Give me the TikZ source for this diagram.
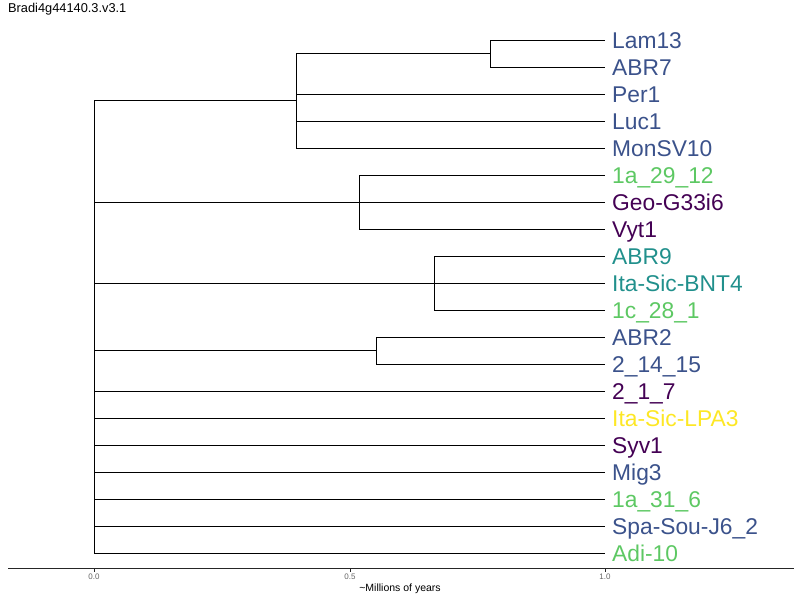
\documentclass[tikz,border=0pt]{standalone}
\usepackage{fontspec}
\setmainfont{Liberation Sans}
\definecolor{vPurple}{HTML}{440154}
\definecolor{vBlue}{HTML}{3B528B}
\definecolor{vTeal}{HTML}{21908C}
\definecolor{vGreen}{HTML}{5DC863}
\definecolor{vYellow}{HTML}{FDE725}
\begin{document}
\begin{tikzpicture}[x=1pt,y=-1pt,
  edge/.style={draw=black,line width=0.8pt},
  leaf/.style={anchor=base west,inner sep=0pt,font=\fontsize{22.8}{22.8}\selectfont},
  tick/.style={anchor=north,inner sep=0pt,text=gray!80!black,font=\fontsize{8}{8}\selectfont}]
\useasboundingbox (0,0) rectangle (800,600);
% title
\node[anchor=west,inner sep=0pt,font=\fontsize{12.8}{12.8}\selectfont] (title) at (8,9) {Bradi4g44140.3.v3.1};
% tips
\foreach \n/\lab/\col [count=\i from 0] in {
  t1/Lam13/vBlue, t2/ABR7/vBlue, t3/Per1/vBlue, t4/Luc1/vBlue, t5/MonSV10/vBlue,
  t6/1a\_29\_12/vGreen, t7/Geo-G33i6/vPurple, t8/Vyt1/vPurple,
  t9/ABR9/vTeal, t10/Ita-Sic-BNT4/vTeal, t11/1c\_28\_1/vGreen,
  t12/ABR2/vBlue, t13/2\_14\_15/vBlue, t14/2\_1\_7/vPurple, t15/Ita-Sic-LPA3/vYellow,
  t16/Syv1/vPurple, t17/Mig3/vBlue, t18/1a\_31\_6/vGreen, t19/Spa-Sou-J6\_2/vBlue, t20/Adi-10/vGreen}{
  \coordinate (\n) at (605,{40+27*\i});
  \node[leaf,text=\col] (L\n) at (612,{48+27*\i}) {\lab};
}
% internal nodes
\coordinate (a) at (490,53.5);   % Lam13 + ABR7
\coordinate (b) at (296,100.75); % first clade
\coordinate (c) at (359,202);    % 1a_29_12, Geo-G33i6, Vyt1
\coordinate (d) at (434,283);    % ABR9, Ita-Sic-BNT4, 1c_28_1
\coordinate (e) at (376,350.5);  % ABR2, 2_14_15
\coordinate (r) at (94,326.5);   % root
\foreach \p/\k in {a/t1,a/t2}{\draw[edge] (\p) |- (\k);}
\foreach \k in {a,t3,t4,t5}{\draw[edge] (b) |- (\k);}
\draw[edge] (b |- a) -- (b |- t5);
\foreach \k in {t6,t7,t8}{\draw[edge] (c) |- (\k);}
\foreach \k in {t9,t10,t11}{\draw[edge] (d) |- (\k);}
\foreach \k in {t12,t13}{\draw[edge] (e) |- (\k);}
\foreach \k in {b,c,d,e,t14,t15,t16,t17,t18,t19,t20}{\draw[edge] (r) |- (\k);}
% time axis
\coordinate (ax0) at (8,568);
\coordinate (ax1) at (794,568);
\draw[gray!30!black,line width=0.9pt] (ax0) -- (ax1);
\foreach \x/\lab/\nm in {94/0.0/k0, 350/0.5/k1, 605/1.0/k2}{
  \draw[gray!30!black,line width=0.6pt] (\x,568) -- (\x,572);
  \node[tick] (\nm) at (\x,574) {\lab};
}
\node[anchor=north,inner sep=0pt,font=\fontsize{10.5}{10.5}\selectfont] (axtitle) at (400,584) {\textasciitilde Millions of years};
\end{tikzpicture}
\end{document}
